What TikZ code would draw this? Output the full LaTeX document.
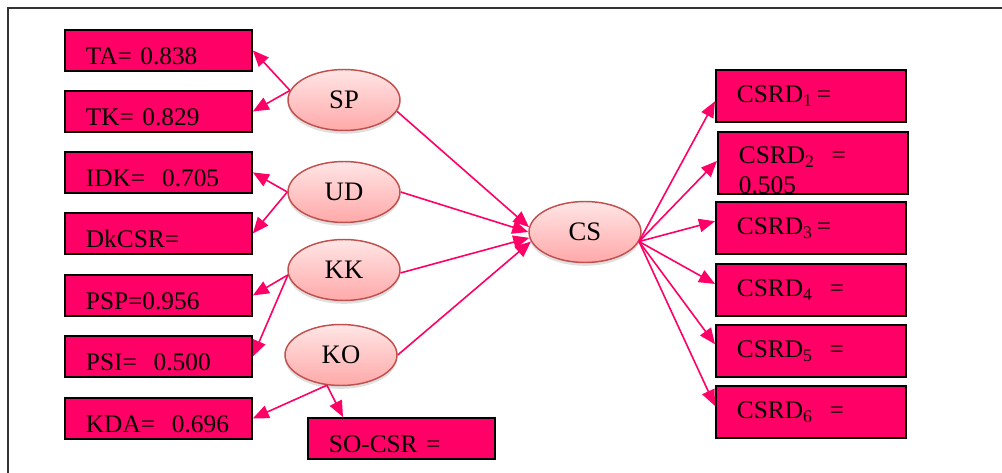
\documentclass[tikz,border=0pt]{standalone}
\usepackage{fontspec}
\setmainfont{Liberation Serif}
\usetikzlibrary{shapes.geometric,arrows.meta,shadows}
\definecolor{boxred}{HTML}{FF0066}
\definecolor{linkred}{HTML}{FF0066}
\definecolor{ovalline}{HTML}{C0504D}
\definecolor{ovaltop}{HTML}{FFE6E6}
\definecolor{ovalbot}{HTML}{FFA8A8}
\begin{document}
\begin{tikzpicture}[x=0.75pt,y=-0.75pt,
  lbox/.style={rectangle,draw=black,line width=1.4pt,fill=boxred,anchor=north west,
    minimum width=140.25pt,minimum height=30.75pt,text width=108.75pt,align=left,
    inner xsep=15.75pt,inner ysep=0pt,text height=21.75pt,text depth=0pt,
    font=\fontsize{19}{22.5}\selectfont},
  rbox/.style={lbox,minimum width=142.5pt,minimum height=39pt,text width=111pt,
    text height=10.5pt},
  oval/.style={ellipse,draw=ovalline,line width=1.1pt,top color=ovaltop,bottom color=ovalbot,
    minimum width=84pt,minimum height=45.75pt,inner sep=0pt,
    font=\fontsize{20}{22.5}\selectfont,
    drop shadow={opacity=0.25,shadow xshift=0pt,shadow yshift=-2.5pt}},
  link/.style={draw=linkred,line width=1.2pt,-{Triangle[length=12pt,width=10pt]}}]
\useasboundingbox (0,0) rectangle (1002,473);
\draw[line width=0.8pt,black!80] (8,473) -- (8,8) -- (1002,8);
% indicator boxes (left)
\node[lbox] (ta) at (64,29) {TA=~0.838};
\node[lbox] (tk) at (64,90) {TK=~0.829};
\node[lbox] (idk) at (64,151) {IDK=~~0.705};
\node[lbox] (dkcsr) at (64,212) {DkCSR=};
\node[lbox] (psp) at (64,274) {PSP=0.956};
\node[lbox] (psi) at (64,335) {PSI=~~0.500};
\node[lbox] (kda) at (64,397) {KDA=~~0.696};
\node[lbox] (socsr) at (307,417) {SO-CSR~=};
% constructs
\node[oval] (sp) at (344,100) {SP};
\node[oval] (ud) at (344,192) {UD};
\node[oval] (kk) at (344,270) {KK};
\node[oval] (ko) at (341,355) {KO};
\node[oval] (cs) at (585,232) {CS};
% indicator boxes (right)
\node[rbox] (csrd1) at (715,69) {CSRD\textsubscript{1}\,=};
\node[rbox,minimum height=46.5pt,text height=24pt,text depth=22.5pt] (csrd2) at (717,131)
  {CSRD\textsubscript{2}~~=\\0.505};
\node[rbox] (csrd3) at (715,201) {CSRD\textsubscript{3}\,=};
\node[rbox] (csrd4) at (715,263) {CSRD\textsubscript{4}~~=};
\node[rbox] (csrd5) at (715,324) {CSRD\textsubscript{5}~~=};
\node[rbox] (csrd6) at (715,385) {CSRD\textsubscript{6}~~=};
\path
    (sp.170) edge[link] (ta.east)
    (sp.170) edge[link] (tk.east)
    (ud.west) edge[link] (idk.east)
    (ud.west) edge[link] (dkcsr.east)
    (kk.185) edge[link] (psp.east)
    (kk.185) edge[link] (psi.east)
    (ko.245) edge[link] (kda.east)
    (ko.245) edge[link] ([xshift=27pt]socsr.north west);
\path
    (sp.-12) edge[link] (cs.175)
    (ud.east) edge[link] (cs.180)
    (kk.-3) edge[link] (cs.186)
    (ko.east) edge[link] (cs.190);
\path
    (cs.-10) edge[link] ([yshift=-4pt]csrd1.west)
    (cs.-10) edge[link] ([yshift=1.5pt]csrd2.west)
    (cs.-10) edge[link] ([yshift=5pt]csrd3.west)
    (cs.-10) edge[link] ([yshift=4.5pt]csrd4.west)
    (cs.-10) edge[link] ([yshift=5pt]csrd5.west)
    (cs.-10) edge[link] ([yshift=4.5pt]csrd6.west);
\end{tikzpicture}
\end{document}
